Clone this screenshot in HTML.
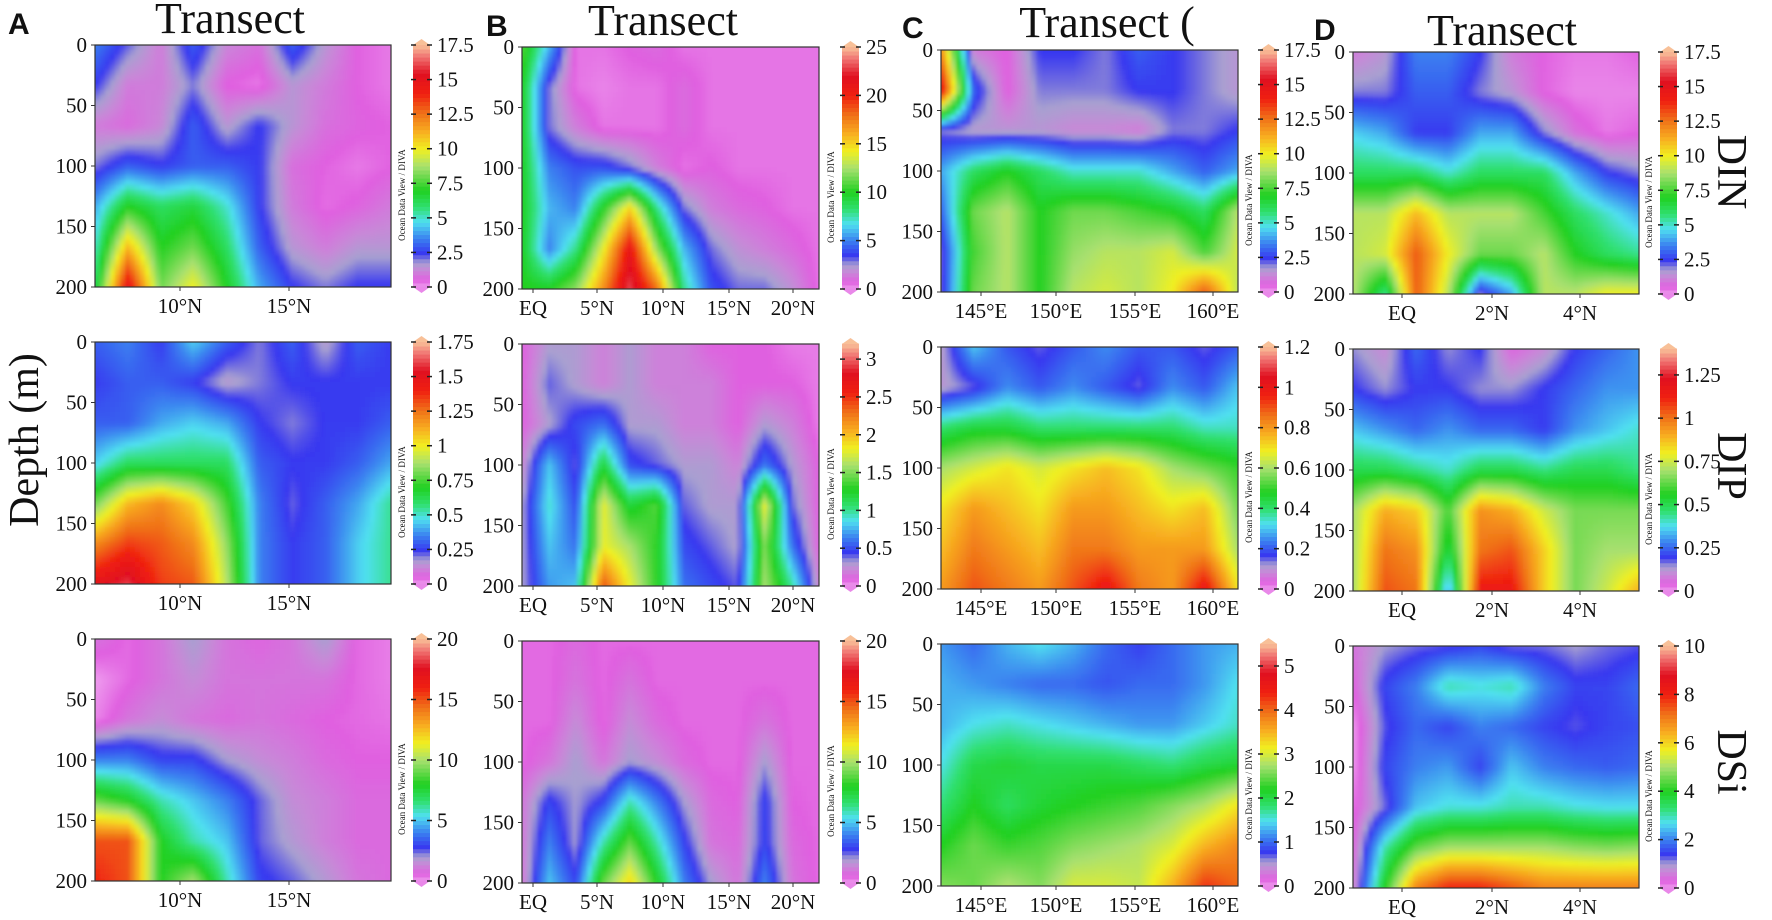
<!DOCTYPE html>
<html><head><meta charset="utf-8">
<style>
html,body{margin:0;padding:0;background:#fff;}
svg{display:block;}
text{font-family:"Liberation Serif",serif;fill:#111;}
.lt{font-family:"Liberation Sans",sans-serif;font-weight:bold;}
</style></head>
<body>
<svg id="fig" width="1772" height="920" viewBox="0 0 1772 920" xmlns="http://www.w3.org/2000/svg">
<defs>
<filter id="soft" x="-5%" y="-5%" width="110%" height="110%"><feGaussianBlur stdDeviation="1.8"/></filter>
</defs>
<text class="lt" x="8" y="34" font-size="30">A</text>
<text class="lt" x="486" y="36" font-size="30">B</text>
<text class="lt" x="902" y="38" font-size="30">C</text>
<text class="lt" x="1314" y="40" font-size="30">D</text>
<text x="230" y="33" font-size="44" text-anchor="middle">Transect</text>
<text x="663" y="35" font-size="44" text-anchor="middle">Transect</text>
<text x="1107" y="37" font-size="44" text-anchor="middle">Transect (</text>
<text x="1502" y="45" font-size="44" text-anchor="middle">Transect</text>
<text transform="translate(38,440) rotate(-90)" font-size="42" text-anchor="middle">Depth (m)</text>
<text transform="translate(1718,172) rotate(90)" font-size="42" text-anchor="middle">DIN</text>
<text transform="translate(1718,466) rotate(90)" font-size="42" text-anchor="middle">DIP</text>
<text transform="translate(1718,762) rotate(90)" font-size="42" text-anchor="middle">DSi</text>
<g id="panels"></g>
</svg>
<script>
const depthTicks=[0,50,100,150,200];
const xTicksA=["10°N","15°N"];
const xTicksB=["EQ","5°N","10°N","15°N","20°N"];
const xTicksC=["145°E","150°E","155°E","160°E"];
const xTicksD=["EQ","2°N","4°N"];
const cbA1=[0,2.5,5,7.5,10,12.5,15,17.5];
const cbA2=[0,0.25,0.5,0.75,1,1.25,1.5,1.75];
const cbA3=[0,5,10,15,20];
const cbB1=[0,5,10,15,20,25];
const cbB2=[0,0.5,1,1.5,2,2.5,3];
const cbB3=[0,5,10,15,20];
const cbC1=[0,2.5,5,7.5,10,12.5,15,17.5];
const cbC2=[0,0.2,0.4,0.6,0.8,1,1.2];
const cbC3=[0,1,2,3,4,5];
const cbD1=[0,2.5,5,7.5,10,12.5,15,17.5];
const cbD2=[0,0.25,0.5,0.75,1,1.25];
const cbD3=[0,2,4,6,8,10];

const dinA=[[3.5,2.2,1,3,1.2,0.8,3,1.5,0.5,0.3],[2.5,1,1,2,0.5,0.3,1.5,1,0.5,0.3],[1,0.7,1.2,3,1.5,2.5,1.5,0.8,0.6,0.5],[2,3,2.5,3,3,2.5,0.8,0.5,0.3,0.5],[4,7,6,6.5,5,2.5,1,0.4,0.6,1],[5,11,7,8,6,3,1.5,1,1.5,1.5],[6,15,8,10,7,4,2.5,2,2.5,2.5]];
const dinB=[[11,6,0.5,0.5,0.8,1,0.5,0.5,0.5,0.5,0.5,0.5],[10,3,0.5,0.3,0.5,0.5,1,0.5,0.5,0.5,0.5,0.5],[10,3,1.5,0.5,0.5,0.5,1,0.5,0.5,0.5,0.5,0.5],[10,5,4,4,3,1.5,0.5,0.8,0.5,0.5,0.5,0.5],[10,6,5,10,15,8,3,1.5,1,0.8,0.5,0.5],[10,5,8,14,21,12,6,3,2,1.5,1,0.5],[10,10,12,17,23,18,8,4,3,3,2,0.5]];
const dinC=[[12,1,0.5,2.5,2.5,2,3,2.5,2,1.5],[15,3,0.5,2,2,2,2.5,2.5,2,1.5],[2,1.5,1.5,1.5,1.2,1.2,1,2,2,2.5],[4,6,7,6,5,5,5,4,3,4],[3,8,9,7,8,8,7.5,7,6,9],[2,7.5,9,7,8.5,9,9,9.5,7.5,9.5],[2,8,9,7,9,9.5,9,10,13,9]];
const dinD=[[1,1.5,3.5,3.5,2.5,1,0.5,0.3,0.3,0.5],[2,2,3,3,2,1.5,0.5,0.2,0.2,0.2],[4.5,4,2.5,2.5,4,4,2,0.8,0.3,0.5],[6,6,6,5,6,6,6,4,2.5,2],[9,9,11,9,9,9,7.5,6,5,4],[9,9.5,13,10,8,8,9,7,6,5.5],[9,5.5,13,9,2,4,9,9,10,10]];
const dipA=[[0.3,0.35,0.25,0.45,0.3,0.2,0.3,0.15,0.3,0.25],[0.25,0.3,0.3,0.25,0.15,0.2,0.25,0.25,0.25,0.25],[0.3,0.3,0.4,0.45,0.4,0.25,0.2,0.25,0.25,0.3],[0.45,0.6,0.6,0.6,0.6,0.3,0.25,0.25,0.3,0.4],[0.8,1.1,1.2,1.05,0.75,0.35,0.22,0.3,0.4,0.55],[1.2,1.35,1.3,1.2,0.85,0.35,0.25,0.3,0.45,0.55],[1.5,1.6,1.35,1.3,0.9,0.35,0.25,0.3,0.45,0.55]];
const dipB=[[0.1,0.3,0.3,0.2,0.3,0.2,0.2,0.1,0.1,0.1,0.05,0.05],[0.1,0.4,0.3,0.2,0.3,0.2,0.2,0.2,0.1,0.1,0.1,0.05],[0.1,0.3,0.5,0.6,0.3,0.3,0.2,0.2,0.1,0.3,0.2,0.05],[0.2,0.8,0.4,1.2,0.5,0.4,0.3,0.3,0.2,0.6,0.3,0.1],[0.3,0.9,0.5,1.8,1.2,1.4,0.4,0.3,0.3,1.8,0.4,0.1],[0.3,0.8,0.6,1.8,1.6,1.3,0.5,0.4,0.3,1.5,0.6,0.1],[0.3,0.7,0.8,2.4,1.8,1.3,0.6,0.5,0.4,1.6,1.0,0.2]];
const dipC=[[0.1,0.3,0.2,0.15,0.2,0.25,0.2,0.2,0.15,0.2],[0.1,0.15,0.25,0.2,0.25,0.2,0.15,0.25,0.2,0.3],[0.4,0.45,0.45,0.4,0.4,0.4,0.4,0.4,0.35,0.35],[0.6,0.65,0.7,0.65,0.7,0.75,0.7,0.6,0.55,0.5],[0.7,0.8,0.75,0.7,0.8,0.8,0.75,0.7,0.75,0.55],[0.75,0.85,0.8,0.75,0.85,0.85,0.8,0.8,0.8,0.6],[0.8,0.9,0.85,0.8,0.9,1.0,0.85,0.8,1.0,0.7]];
const dipD=[[0.15,0.1,0.25,0.15,0.2,0.05,0.1,0.2,0.25,0.3],[0.2,0.15,0.2,0.2,0.15,0.15,0.2,0.25,0.3,0.3],[0.35,0.3,0.25,0.3,0.25,0.25,0.2,0.3,0.35,0.4],[0.5,0.5,0.45,0.4,0.5,0.5,0.45,0.5,0.5,0.45],[0.7,0.9,0.85,0.6,0.95,0.9,0.75,0.65,0.65,0.65],[0.7,1.0,0.95,0.5,1.0,1.05,0.85,0.65,0.7,0.7],[0.7,1.05,1.0,0.3,1.15,1.15,0.85,0.65,0.75,0.9]];
const dsiA=[[1,0.5,1,2,1,0.7,1,2,0.5,0.3],[0,0.5,1,1.5,1,1,1,1,0.5,0.3],[0.2,1,1.5,1,0.8,1,0.8,0.6,0.5,0.4],[4,4,3,3,2,1.5,1.2,0.8,0.6,0.6],[9,8,6,5,4,2.5,1.5,1.2,0.8,0.8],[15,15,8,6,5,2.5,1.8,1.2,0.8,0.8],[16,15,8,10,6,3,2.5,1.8,1,0.8]];
const dsiB=[[0.5,0.5,0.8,0.5,0.5,0.5,0.5,0.5,0.5,0.5,0.5,0.5],[0.5,0.5,1,0.5,1,0.5,0.5,0.5,0.5,0.5,0.5,0.5],[0.5,0.5,1.5,0.5,1.5,0.8,0.5,0.5,0.5,1,0.5,0.5],[0.5,1,2,1,2,1.5,0.8,0.5,0.5,2,0.5,0.5],[1,3,2,3,6,4,2,0.8,0.6,3,0.6,0.5],[1,4,2,6,9,6,3,1,0.8,3,0.8,0.5],[1,5,3,9,12,8,4,2,1,4,1,0.5]];
const dsiC=[[1.2,1,1.3,1.5,1.3,1,0.8,1,1.2,1.3],[1.3,1.2,1.1,1,1,0.9,1,1,1.2,1.5],[1.3,1.5,1.6,1.5,1.4,1.3,1.2,1.2,1.4,1.6],[1.5,2,2.1,2,2,2,1.9,1.8,2,2.1],[1.8,2.2,1.9,2.1,2.2,2.3,2.4,2.6,2.8,3.2],[2.2,2.5,2.3,2.4,2.6,2.7,2.8,3,3.5,3.8],[2.6,2.5,2.8,2.6,3,3,2.9,3.5,4.3,4]];
const dsiD=[[0.5,1,1.2,1.3,1.5,1.2,1.2,1,1.2,1.3],[0.3,1.5,2,3,2.8,3,2,1.5,1.5,1.8],[0,1.3,1.8,1.5,2,1.8,1.5,1.3,1.5,1.6],[0,1.5,2,2.2,1.5,2.5,2,1.8,1.7,1.8],[0.2,1.2,2.5,2.8,2.8,3,3,2.8,2.7,2.7],[0.3,3,4.5,5,5,5,5,4.8,4.7,4.8],[0.5,4,7,8,8,7.5,7,7,7,7]];

const stops=[[0,'#ee9cee'],[0.03,'#e060e0'],[0.07,'#c888d8'],[0.1,'#a8a0d0'],[0.14,'#3838f0'],[0.2,'#3a80f0'],[0.27,'#50e0f0'],[0.33,'#30e070'],[0.4,'#20d020'],[0.5,'#a8e070'],[0.57,'#f0f020'],[0.64,'#f8b020'],[0.72,'#f07018'],[0.8,'#f02010'],[0.88,'#e01020'],[0.95,'#f07070'],[1,'#f8c098']];
function hex(c){return [parseInt(c.substr(1,2),16),parseInt(c.substr(3,2),16),parseInt(c.substr(5,2),16)];}
const stopsRGB=stops.map(s=>[s[0],hex(s[1])]);
function cmap(t){t=Math.max(0,Math.min(1,t));
 for(let i=1;i<stopsRGB.length;i++){if(t<=stopsRGB[i][0]){const a=stopsRGB[i-1],b=stopsRGB[i];const f=(t-a[0])/(b[0]-a[0]);
  return 'rgb('+a[1].map((v,k)=>Math.round(v+(b[1][k]-v)*f)).join(',')+')';}}
 return stops[stops.length-1][1];}

const NS='http://www.w3.org/2000/svg';
const root=document.getElementById('panels');
function mk(tag,attrs,parent){const e=document.createElementNS(NS,tag);for(const k in attrs)e.setAttribute(k,attrs[k]);(parent||root).appendChild(e);return e;}

const cols=[
 {x0:95,x1:391,top:45,cb:413,ticks:xTicksA,tickPos:[180,289],name:'a'},
 {x0:522,x1:819,top:47,cb:842,ticks:xTicksB,tickPos:[533,597,663,729,793],name:'b'},
 {x0:941,x1:1238,top:50,cb:1260,ticks:xTicksC,tickPos:[981,1056,1135,1213],name:'c'},
 {x0:1353,x1:1639,top:52,cb:1660,ticks:xTicksD,tickPos:[1402,1492,1580],name:'d'}];
const grid=[[dinA,dipA,dsiA],[dinB,dipB,dsiB],[dinC,dipC,dsiC],[dinD,dipD,dsiD]];
const cbs=[[cbA1,cbA2,cbA3],[cbB1,cbB2,cbB3],[cbC1,cbC2,cbC3],[cbD1,cbD2,cbD3]];
const vmax=[[17.5,1.75,20],[25,3.2,20],[17.5,1.2,5.5],[17.5,1.4,10]];
const H=242,ROWSTEP=297,CELL=5;
const rowNames=['din','dip','dsi'];

function sample(g,u,v){
 const nr=g.length,nc=g[0].length;const fy=v*(nr-1),fx=u*(nc-1);
 const r0=Math.min(nr-2,Math.floor(fy)),c0=Math.min(nc-2,Math.floor(fx));
 const ty=fy-r0,tx=fx-c0;
 const a=g[r0][c0]*(1-tx)+g[r0][c0+1]*tx,b=g[r0+1][c0]*(1-tx)+g[r0+1][c0+1]*tx;
 return a*(1-ty)+b*ty;}

cols.forEach((col,ci)=>{
 for(let ri=0;ri<3;ri++){
  const y0=col.top+ri*ROWSTEP,y1=y0+H,W=col.x1-col.x0;
  const data=grid[ci][ri],mx=vmax[ci][ri];
  const pid='p'+col.name+ri;
  const g=mk('g',{});
  
  
  const cp=mk('clipPath',{id:'clip'+pid},g);mk('rect',{x:col.x0,y:y0,width:W,height:H},cp);
  const clipG=mk('g',{'clip-path':'url(#clip'+pid+')'},g);
  const hm=mk('g',{filter:'url(#soft)'},clipG);
  
  
  for(let py=-CELL*2;py<H+CELL*2;py+=CELL){
   for(let px=-CELL*2;px<W+CELL*2;px+=CELL){
    const u=Math.max(0,Math.min(1,(px+CELL/2)/W)),v=Math.max(0,Math.min(1,(py+CELL/2)/H));
    const val=sample(data,u,v);
    const r=mk('rect',{x:col.x0+px,y:y0+py,width:CELL+0.6,height:CELL+0.6,fill:cmap(val/mx)},hm);
    
    
   }}
  const fr=mk('rect',{x:col.x0,y:y0,width:W,height:H,fill:'none',stroke:'#333','stroke-width':1.2},g);
  
  
  depthTicks.forEach(d=>{const yy=y0+d/200*H;
   const t=mk('text',{x:col.x0-8,y:yy+7,'font-size':21,'text-anchor':'end'},g);t.textContent=d;
   
   
   mk('line',{x1:col.x0-4,x2:col.x0,y1:yy,y2:yy,stroke:'#333'},g);});
  col.ticks.forEach((lab,k)=>{const xx=col.tickPos[k];
   mk('line',{x1:xx,x2:xx,y1:y1,y2:y1+4,stroke:'#333'},g);
   const t=mk('text',{x:xx,y:y1+26,'font-size':21,'text-anchor':'middle'},g);t.textContent=lab;
   
   });
  const ot=mk('text',{transform:'translate('+(col.cb-8)+','+(y0+H*0.62)+') rotate(-90)','font-size':9,'text-anchor':'middle',fill:'#333'},g);
  ot.textContent='Ocean Data View / DIVA';
  
  
  const cb=mk('g',{},g);
  
  
  const cw=17,N=60;
  for(let k=0;k<N;k++){const t0=k/N;
   mk('rect',{x:col.cb,y:y1-(k+1)/N*H-0.5,width:cw,height:H/N+1,fill:cmap(t0+0.5/N)},cb);}
  mk('path',{d:'M'+col.cb+','+y0+' L'+(col.cb+cw/2)+','+(y0-6)+' L'+(col.cb+cw)+','+y0+' Z',fill:cmap(1)},cb);
  mk('path',{d:'M'+col.cb+','+y1+' L'+(col.cb+cw/2)+','+(y1+6)+' L'+(col.cb+cw)+','+y1+' Z',fill:cmap(0.01)},cb);
  cbs[ci][ri].forEach(val=>{const yy=y1-val/mx*H;
   mk('line',{x1:col.cb-2,x2:col.cb+3,y1:yy,y2:yy,stroke:'#222','stroke-width':1.5},cb);
   mk('line',{x1:col.cb+cw-3,x2:col.cb+cw+2,y1:yy,y2:yy,stroke:'#222','stroke-width':1.5},cb);
   const t=mk('text',{x:col.cb+cw+7,y:yy+7,'font-size':21},cb);t.textContent=val;
   
   });
 }
});
</script>
</body></html>
